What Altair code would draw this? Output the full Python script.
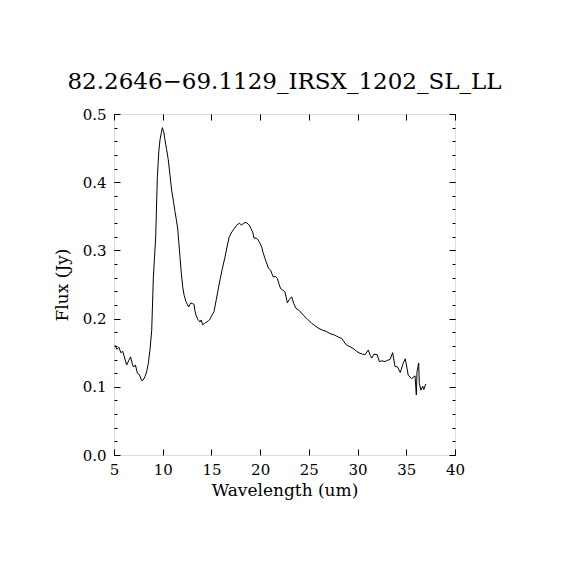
import altair as alt
import pandas as pd

wavelength = [5.1, 5.3, 5.5, 5.7, 5.9, 6.1, 6.3, 6.5, 6.7, 6.85, 7.0, 7.2, 7.4, 7.6, 7.84, 8.0,
              8.18, 8.35, 8.52, 8.7, 8.87, 9.04, 9.16, 9.28, 9.45, 9.6, 9.72, 9.85, 9.96, 10.1,
              10.23, 10.4, 10.57, 10.75, 10.92, 11.1, 11.26, 11.4, 11.53, 11.65, 11.77, 11.9,
              12.05, 12.2, 12.39, 12.55, 12.67, 12.8, 12.9, 13.05, 13.21, 13.3, 13.42, 13.6,
              13.83, 13.95, 14.1, 14.3, 14.51, 14.7, 14.85, 15.05, 15.26, 15.5, 15.88, 16.1,
              16.39, 16.6, 16.83, 17.1, 17.35, 17.6, 17.86, 18.1, 18.3, 18.55, 18.75, 18.89,
              19.05, 19.23, 19.37, 19.6, 19.81, 20.0, 20.16, 20.3, 20.5, 20.7, 20.84, 21.08,
              21.2, 21.35, 21.55, 21.77, 21.95, 22.1, 22.3, 22.55, 22.79, 23.0, 23.23, 23.45,
              23.68, 24.0, 24.43, 24.8, 25.29, 25.6, 25.97, 26.4, 26.83, 27.17, 27.6, 28.02,
              28.37, 28.6, 28.88, 29.2, 29.56, 29.9, 30.25, 30.5, 30.76, 31.1, 31.3, 31.45,
              31.69, 32.02, 32.23, 32.5, 32.81, 33.1, 33.33, 33.6, 33.84, 34.1, 34.38, 34.69,
              34.9, 35.2, 35.55, 35.9, 36.03, 36.1, 36.27, 36.34, 36.5, 36.68, 36.8, 37.0]

flux = [0.161, 0.155, 0.158, 0.150, 0.152, 0.142, 0.132, 0.138, 0.144, 0.135, 0.129, 0.132,
        0.120, 0.118, 0.109, 0.110, 0.115, 0.122, 0.134, 0.155, 0.183, 0.261, 0.290, 0.320,
        0.408, 0.445, 0.462, 0.472, 0.480, 0.474, 0.462, 0.448, 0.433, 0.410, 0.388, 0.372,
        0.357, 0.345, 0.333, 0.312, 0.291, 0.268, 0.247, 0.234, 0.225, 0.220, 0.217, 0.221,
        0.223, 0.222, 0.221, 0.212, 0.205, 0.199, 0.195, 0.198, 0.191, 0.193, 0.195, 0.197,
        0.199, 0.205, 0.210, 0.228, 0.257, 0.272, 0.290, 0.305, 0.320, 0.327, 0.332, 0.337,
        0.340, 0.337, 0.340, 0.341, 0.339, 0.337, 0.332, 0.327, 0.318, 0.318, 0.315, 0.310,
        0.305, 0.297, 0.288, 0.280, 0.274, 0.271, 0.266, 0.261, 0.262, 0.259, 0.250, 0.244,
        0.242, 0.239, 0.223, 0.228, 0.232, 0.222, 0.215, 0.212, 0.205, 0.200, 0.193, 0.190,
        0.186, 0.183, 0.181, 0.178, 0.176, 0.173, 0.171, 0.166, 0.161, 0.159, 0.156, 0.152,
        0.149, 0.148, 0.147, 0.154, 0.146, 0.142, 0.148, 0.147, 0.137, 0.138, 0.137, 0.139,
        0.140, 0.150, 0.130, 0.129, 0.121, 0.135, 0.141, 0.117, 0.112, 0.116, 0.088, 0.122,
        0.135, 0.105, 0.095, 0.101, 0.096, 0.104]

x_ticks = [5, 10, 15, 20, 25, 30, 35, 40]
y_major = [0.0, 0.1, 0.2, 0.3, 0.4, 0.5]
y_minor = [0.0, 0.02, 0.04, 0.06, 0.08, 0.1, 0.12, 0.14, 0.16, 0.18, 0.2, 0.22, 0.24,
           0.26, 0.28, 0.3, 0.32, 0.34, 0.36, 0.38, 0.4, 0.42, 0.44, 0.46, 0.48, 0.5]

title_text = "82.2646\u221269.1129_IRSX_1202_SL_LL"
x_title = "Wavelength (um)"
y_title = "Flux (Jy)"

df = pd.DataFrame({"wl": wavelength, "flux": flux})

FONT = "DejaVu Serif"
xs = alt.Scale(domain=[5, 40], nice=False, zero=False)
ys = alt.Scale(domain=[0, 0.5], nice=False, zero=False)


def tick_axis(orient, values, size):
    return alt.Axis(orient=orient, values=values, tickSize=size, offset=-size,
                    labels=False, domain=False, grid=False, ticks=True, title="",
                    tickColor="black", tickWidth=1)


def layer(xaxis, yaxis, opacity):
    return alt.Chart(df).mark_line(color="black", strokeWidth=1, opacity=opacity).encode(
        x=alt.X("wl:Q", scale=xs, axis=xaxis),
        y=alt.Y("flux:Q", scale=ys, axis=yaxis),
    )


main = layer(
    alt.Axis(orient="bottom", values=x_ticks, format="d", ticks=False, domain=False, grid=False,
             labelFont=FONT, labelFontSize=15, labelColor="black", labelPadding=7,
             labelFlush=False, labelOverlap=False,
             title=x_title, titleFont=FONT, titleFontSize=17, titleFontWeight="normal",
             titleColor="black", titlePadding=5),
    alt.Axis(orient="left", values=y_major, format=".1f", ticks=False, domain=False, grid=False,
             labelFont=FONT, labelFontSize=15, labelColor="black", labelPadding=8,
             labelFlush=False, labelOverlap=False,
             title=y_title, titleFont=FONT, titleFontSize=17, titleFontWeight="normal",
             titleColor="black", titlePadding=11),
    1,
)
l2 = layer(tick_axis("bottom", x_ticks, 6), tick_axis("left", y_major, 6), 0)
l3 = layer(tick_axis("top", x_ticks, 6), tick_axis("right", y_major, 6), 0)
l4 = layer(None, tick_axis("left", y_minor, 3), 0)
l5 = layer(None, tick_axis("right", y_minor, 3), 0)

chart = alt.layer(main, l2, l3, l4, l5).resolve_axis(
    x="independent", y="independent"
).properties(
    width=341,
    height=341,
    autosize=alt.AutoSizeParams(type="none"),
    padding={"left": 106, "top": 106, "right": 100, "bottom": 100},
    title=alt.TitleParams(title_text, font=FONT, fontSize=23, fontWeight="normal",
                          color="black", anchor="middle", frame="group", offset=13),
).configure_view(stroke="black", strokeWidth=1, strokeOpacity=1).configure(background="white")

chart.save("out.html", embed_options={"renderer": "svg", "actions": False})
